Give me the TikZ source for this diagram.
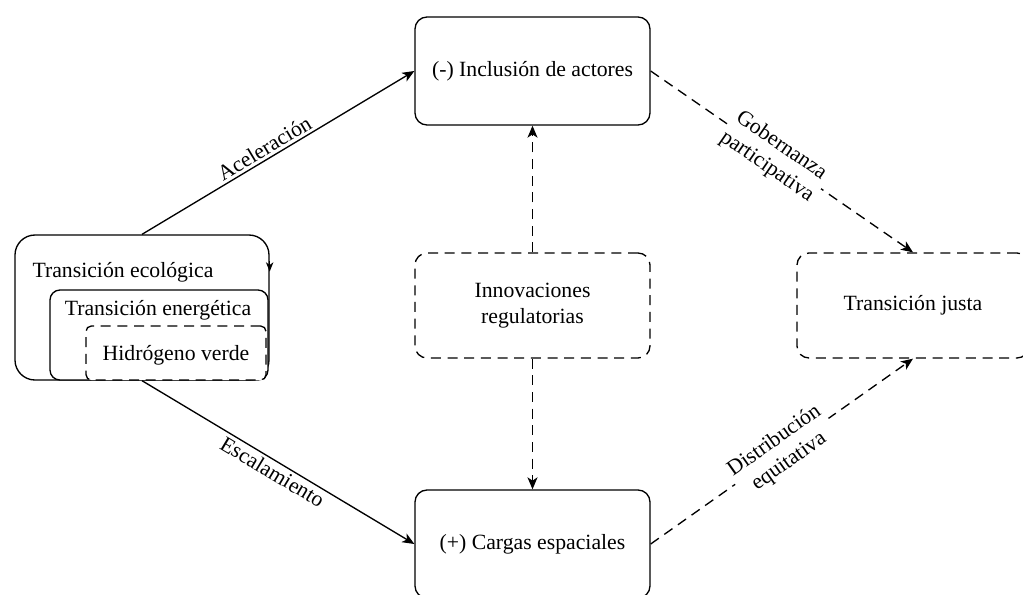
\documentclass[tikz,border=0pt]{standalone}
\usepackage{fontspec}
\setmainfont{Liberation Serif}
\usetikzlibrary{arrows.meta, calc}
\tikzset{
    box/.style={draw,line width=1pt,rounded corners=9pt,minimum width=176.25pt,minimum height=81pt,inner sep=0pt,align=center,font=\fontsize{16.3}{19}\selectfont},
    dbox/.style={box,dash pattern=on 7.5pt off 5pt},
    nest/.style={box,fill=white},
    txt/.style={fill=none,draw=none,inner sep=0pt,font=\fontsize{16.3}{19}\selectfont},
    tt/.style={fill=white,draw=none,inner sep=2pt,sloped,align=center,font=\fontsize{16.3}{19}\selectfont},
    flow/.style={
        every edge/.style={draw,line width=1pt,-{Stealth[length=9pt,width=7.5pt,inset=2.5pt]}},
    },
    dflow/.style={
        every edge/.style={draw,line width=1pt,dash pattern=on 7.5pt off 5pt,-{Stealth[length=9pt,width=7.5pt,inset=2.5pt]}},
    }
}
\begin{document}
\begin{tikzpicture}[x=0.75pt,y=-0.75pt]
\useasboundingbox (0,0) rectangle (1023,594);
\clip (0,0) rectangle (1023,594);
% nested boxes
\node[nest, rounded corners=15pt, minimum width=190.5pt, minimum height=108.75pt] (eco) at (142,307.5) {};
\node[nest, rounded corners=7.5pt, minimum width=163.5pt, minimum height=67.5pt] (ene) at (159,335) {};
\node[nest, dash pattern=on 7.5pt off 5pt, rounded corners=4pt, minimum width=135pt, minimum height=40.5pt] (hid) at (176,353) {};
\node[txt] (teco) at (123,272) {Transición ecológica};
\node[txt] (tene) at (158,310) {Transición energética};
\node[txt] (thid) at (176,355) {Hidrógeno verde};
\draw[line width=1pt, -{Stealth[length=7pt,width=5.5pt,inset=2pt]}] ([yshift=-20pt]eco.north east) -- ([yshift=-28pt]eco.north east);
% boxes
\node[box] (incl) at (532.5,71) {(-) Inclusión de actores};
\node[dbox, minimum height=78.75pt] (innov) at (532.5,305.5) {Innovaciones\\regulatorias};
\node[box] (carg) at (532.5,544) {(+) Cargas espaciales};
\node[dbox, minimum width=174pt, minimum height=78.75pt] (justa) at (913,305.5) {Transición justa};
\path[flow]
    (eco.north) edge node[tt, fill=none, above, pos=0.47] {Aceleración} (incl.west)
    (eco.south) edge node[tt, fill=none, below] {Escalamiento} (carg.west)
;
\path[dflow]
    (innov.north) edge (incl.south)
    (innov.south) edge (carg.north)
    (incl.east) edge node[tt, pos=0.47] {Gobernanza\\participativa} (justa.north)
    (carg.east) edge node[tt] {Distribución\\equitativa} (justa.south)
;
\end{tikzpicture}
\end{document}
